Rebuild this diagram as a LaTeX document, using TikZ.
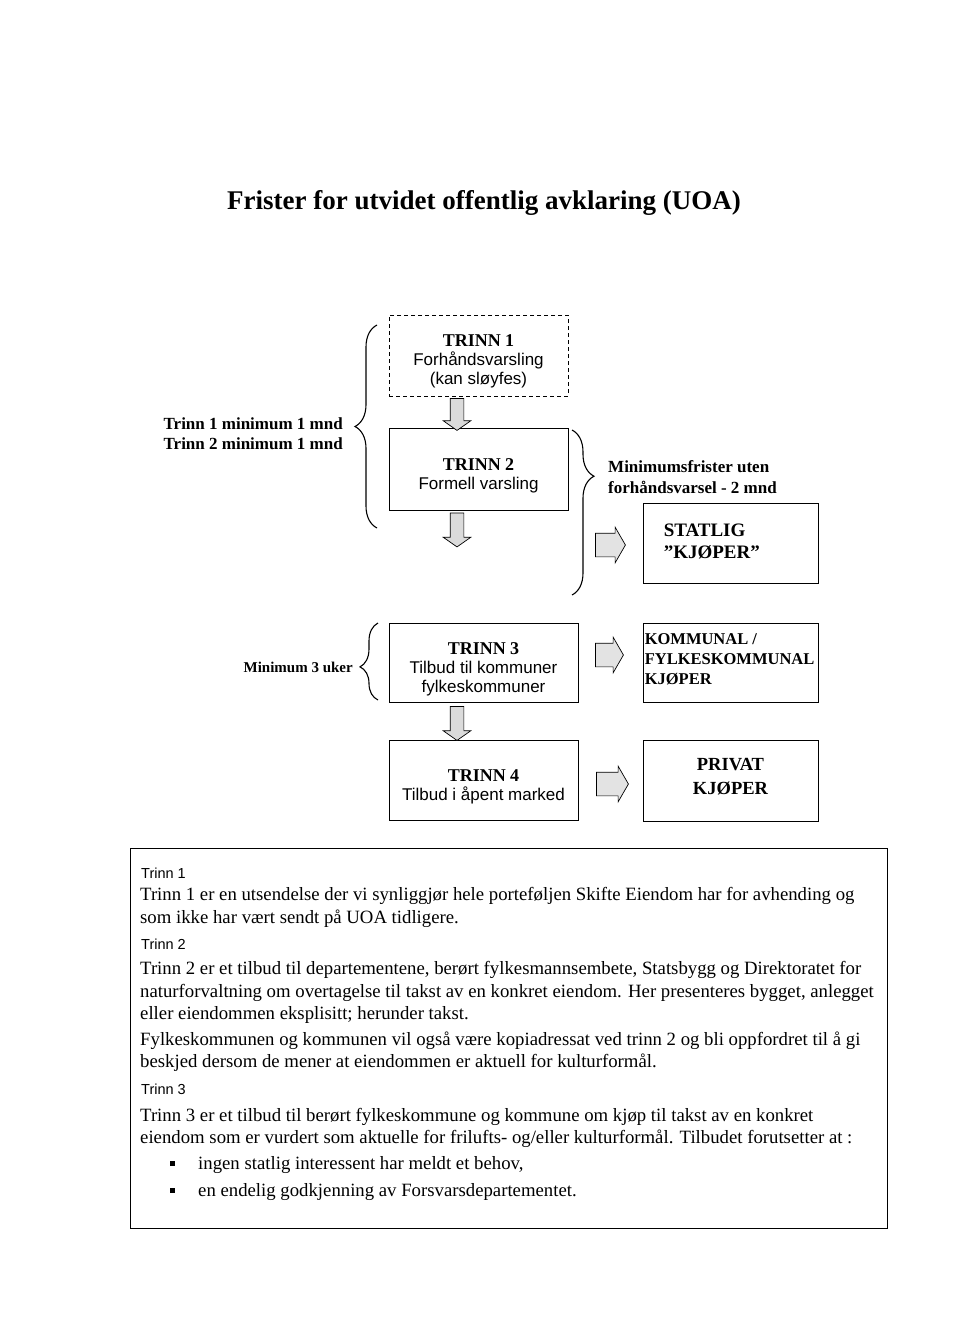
\documentclass[tikz,border=0pt]{standalone}
\usepackage{fontspec}
\setmainfont{Liberation Serif}
\newfontfamily\arialf{Liberation Sans}
\usetikzlibrary{shapes.arrows,decorations.pathreplacing,calc}
\tikzset{
  stepbox/.style={draw=black, line width=0.9pt, inner sep=0pt},
  boxtext/.style={align=center, inner sep=0pt, font=\fontsize{17}{19}\selectfont},
  downarr/.style={single arrow, draw=black, fill=gray!28, line width=0.7pt,
    rotate=-90, minimum height=#1, inner xsep=0pt, inner ysep=6.5pt,
    single arrow head extend=7pt, single arrow tip angle=110},
  rightarr/.style={single arrow, draw=black, fill=gray!22, line width=0.7pt,
    minimum height=#1, inner xsep=0pt, inner ysep=11.5pt,
    single arrow head extend=6pt, single arrow tip angle=120},
  bracestyle/.style={draw=black, line width=1.1pt, decorate},
  sidelabel/.style={font=\fontsize{17}{19}\selectfont\bfseries, inner sep=0pt},
  bodyline/.style={anchor=base west, inner sep=0pt, font=\fontsize{18.75}{21}\selectfont},
  subhead/.style={anchor=base west, inner sep=0pt, font=\arialf\fontsize{14.5}{17}\selectfont},
  bulletsq/.style={fill=black, minimum size=5pt, inner sep=0pt},
}
\begin{document}
\begin{tikzpicture}[x=1pt,y=-1pt]
\useasboundingbox (0,0) rectangle (960,1325);

% title
\node[font=\fontsize{27}{30}\selectfont\bfseries] (title) at (484,203)
  {Frister for utvidet offentlig avklaring (UOA)};

% step boxes
\node[stepbox, dash pattern=on 4pt off 3pt, minimum width=179pt, minimum height=81pt] (t1) at (478.5,355.5) {};
\node[boxtext] (t1x) at ($(t1.center)+(0,6)$)
  {{\fontsize{18}{19}\selectfont\bfseries TRINN 1}\\{\arialf Forhåndsvarsling}\\{\arialf (kan sløyfes)}};
\node[stepbox, minimum width=179pt, minimum height=82pt] (t2) at (478.5,469) {};
\node[boxtext] (t2x) at ($(t2.center)+(0,6.5)$)
  {{\fontsize{18}{19}\selectfont\bfseries TRINN 2}\\{\arialf Formell varsling}};
\node[stepbox, minimum width=189pt, minimum height=79pt] (t3) at (483.5,662.5) {};
\node[boxtext] (t3x) at ($(t3.center)+(0,7)$)
  {{\fontsize{18}{19}\selectfont\bfseries TRINN 3}\\{\arialf Tilbud til kommuner}\\{\arialf fylkeskommuner}};
\node[stepbox, minimum width=189pt, minimum height=80pt] (t4) at (483.5,780) {};
\node[boxtext] (t4x) at ($(t4.center)+(0,7)$)
  {{\fontsize{18}{19}\selectfont\bfseries TRINN 4}\\{\arialf Tilbud i åpent marked}};

% buyer boxes
\node[stepbox, minimum width=175pt, minimum height=80pt] (statlig) at (730.5,543) {};
\node[boxtext, align=left, anchor=west, font=\fontsize{19}{22}\selectfont\bfseries] (statligx)
  at ($(statlig.west)+(21,-2)$) {STATLIG\\”KJØPER”};
\node[stepbox, minimum width=175pt, minimum height=79pt] (komm) at (730.5,662.5) {};
\node[boxtext, align=left, anchor=west, font=\fontsize{16.5}{20}\selectfont\bfseries] (kommx)
  at ($(komm.west)+(2,-3)$) {KOMMUNAL /\\FYLKESKOMMUNAL\\KJØPER};
\node[stepbox, minimum width=175pt, minimum height=81pt] (privat) at (730.5,780.5) {};
\node[boxtext, font=\fontsize{18.5}{24}\selectfont\bfseries] (privatx)
  at ($(privat.center)+(0,-4)$) {PRIVAT\\KJØPER};

% block arrows
\node[downarr=32pt] (a12) at (457,412) {};
\node[downarr=34pt] (a2s) at (457,527.5) {};
\node[downarr=34pt] (a34) at (457,721) {};
\node[rightarr=30pt] (r1) at (607,545) {};
\node[rightarr=28pt] (r2) at (606,655) {};
\node[rightarr=32pt] (r3) at (609,784) {};

% braces
\coordinate (bA1) at (377,528);
\coordinate (bA2) at (377,325);
\draw[bracestyle, decoration={brace, amplitude=22pt, aspect=0.5}] (bA1) -- (bA2);
\coordinate (bB1) at (572,430);
\coordinate (bB2) at (572,595);
\draw[bracestyle, decoration={brace, amplitude=22pt, aspect=0.28}] (bB1) -- (bB2);
\coordinate (bC1) at (378,700);
\coordinate (bC2) at (378,623);
\draw[bracestyle, decoration={brace, amplitude=18pt, aspect=0.43}] (bC1) -- (bC2);

% side labels
\node[sidelabel, anchor=east] (lab1) at (343,424) {Trinn 1 minimum 1 mnd};
\node[sidelabel, anchor=east] (lab2) at (343,444) {Trinn 2 minimum 1 mnd};
\node[sidelabel, anchor=east, font=\fontsize{15}{17}\selectfont\bfseries] (lab3) at (353,667) {Minimum 3 uker};
\node[sidelabel, anchor=west] (lab4) at (608,467) {Minimumsfrister uten};
\node[sidelabel, anchor=west] (lab5) at (608,487) {forhåndsvarsel - 2 mnd};

% text frame
\draw[line width=0.9pt] (130,848) rectangle (887,1228);

\node[subhead] (h1) at (141,878) {Trinn 1};
\node[bodyline] (p1) at (140,900) {Trinn 1 er en utsendelse der vi synliggjør hele porteføljen Skifte Eiendom har for avhending og};
\node[bodyline] (p2) at (140,923) {som ikke har vært sendt på UOA tidligere.};
\node[subhead] (h2) at (141,949) {Trinn 2};
\node[bodyline] (p3) at (140,974) {Trinn 2 er et tilbud til departementene, berørt fylkesmannsembete, Statsbygg og Direktoratet for};
\node[bodyline] (p4) at (140,997) {naturforvaltning om overtagelse til takst av en konkret eiendom. Her presenteres bygget, anlegget};
\node[bodyline] (p5) at (140,1019) {eller eiendommen eksplisitt; herunder takst.};
\node[bodyline] (p6) at (140,1045) {Fylkeskommunen og kommunen vil også være kopiadressat ved trinn 2 og bli oppfordret til å gi};
\node[bodyline] (p7) at (140,1067) {beskjed dersom de mener at eiendommen er aktuell for kulturformål.};
\node[subhead] (h3) at (141,1094) {Trinn 3};
\node[bodyline] (p8) at (140,1121) {Trinn 3 er et tilbud til berørt fylkeskommune og kommune om kjøp til takst av en konkret};
\node[bodyline] (p9) at (140,1143) {eiendom som er vurdert som aktuelle for frilufts- og/eller kulturformål. Tilbudet forutsetter at :};
\node[bulletsq] (b1) at (172,1163) {};
\node[bodyline] (p10) at (198,1169) {ingen statlig interessent har meldt et behov,};
\node[bulletsq] (b2) at (172,1190) {};
\node[bodyline] (p11) at (198,1196) {en endelig godkjenning av Forsvarsdepartementet.};
\end{tikzpicture}
\end{document}
